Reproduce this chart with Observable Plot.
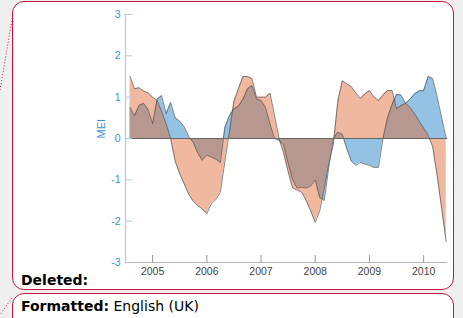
<!DOCTYPE html>
<html><head><meta charset="utf-8">
<script src="https://cdn.jsdelivr.net/npm/d3@7"></script>
<script src="https://cdn.jsdelivr.net/npm/@observablehq/plot@0.6"></script>
<style>
html,body{margin:0;padding:0;}
body{width:463px;height:318px;overflow:hidden;background:#efefef;position:relative;font-family:"DejaVu Sans",Verdana,sans-serif;}
.box{position:absolute;left:12px;width:440px;background:#fff;border:1.5px solid #c8143c;border-radius:12px;box-sizing:content-box;}
#b1{top:0.5px;height:287.5px;}
#b2{top:292.5px;height:60px;}
#chart{position:absolute;left:0;top:0;}
#deco{position:absolute;left:0;top:0;}
.note{position:absolute;left:21px;font-size:14px;line-height:16px;color:#000;white-space:nowrap;}
</style></head>
<body>
<div class="box" id="b1"></div>
<div class="box" id="b2"></div>
<svg id="deco" width="463" height="318">
  <line x1="12.3" y1="18" x2="0" y2="90" stroke="#c8143c" stroke-width="1" stroke-dasharray="1,2"/>
  <line x1="11.7" y1="298" x2="0" y2="315" stroke="#c8143c" stroke-width="1" stroke-dasharray="1,2"/>
</svg>
<div id="chart"></div>
<div class="note" style="top:272px"><b>Deleted:</b></div>
<div class="note" style="top:298px"><b>Formatted:</b> English (UK)</div>
<script>
// Monthly values, Aug 2004 .. Jun 2010
const startYear = 2004, startMonthIndex = 7; // August
const orangeSeries = [1.5,1.2,1.23,1.15,1.1, 1.0,0.92,0.65,0.35,0.0, -0.55,-0.85,-1.1,-1.35,-1.52, -1.63,-1.7,-1.82,-1.58,-1.48, -1.3,-0.55,0.15,0.9,1.2, 1.5,1.5,1.45,1.0,1.0, 1.0,1.1,0.55,0.0,-0.35, -0.8,-1.2,-1.25,-1.3,-1.5, -1.75,-2.03,-1.75,-1.2,-0.6, -0.15,0.9,1.4,1.32,1.25, 1.1,0.97,1.08,1.16,1.0, 0.92,1.05,1.16,1.16,0.72, 0.8,0.85,0.75,0.6,0.42, 0.25,0.08,-0.2,-0.9,-1.7, -2.5];
const blueSeries = [0.75,0.55,0.8,0.85,0.7, 0.36,0.95,1.04,0.6,0.87, 0.5,0.42,0.28,0.05,-0.1, -0.35,-0.53,-0.4,-0.45,-0.5, -0.58,0.27,0.55,0.72,0.78, 0.95,1.2,1.28,0.95,0.92, 0.75,0.35,0.0,-0.05,-0.15, -0.6,-1.0,-1.2,-1.18,-1.2, -1.15,-1.0,-1.43,-1.5,-0.7, 0.0,0.15,0.1,-0.25,-0.55, -0.65,-0.58,-0.62,-0.65,-0.7, -0.7,0.0,0.5,0.82,1.07, 1.05,0.85,0.95,1.08,1.15, 1.16,1.5,1.45,1.0,0.5, 0.0];
const yearTicks = [2005,2006,2007,2008,2009,2010];
const yTicks = [-3,-2,-1,0,1,2,3];
const xDomain = [2004.5, 2010.44];
const yLabel = "MEI";

const data = orangeSeries.map((v, i) => ({
  t: startYear + (startMonthIndex + i) / 12,
  orange: v,
  blue: blueSeries[i]
}));

const blueAxis = "#a9cbe8";
const blueText = "#3d8ed4";

const chart = Plot.plot({
  width: 463, height: 290,
  marginLeft: 125, marginRight: 16, marginTop: 14, marginBottom: 28,
  style: {background: "transparent", fontFamily: "'Liberation Sans', Arial, sans-serif", fontSize: "10.5px", overflow: "visible"},
  x: {domain: xDomain},
  y: {domain: [-3, 3]},
  marks: [
    Plot.areaY(data, {x: "t", y: "blue", fill: "#93c2e5"}),
    Plot.areaY(data, {x: "t", y: "orange", fill: "#e06a35", fillOpacity: 0.48}),
    Plot.lineY(data, {x: "t", y: "blue", stroke: "#4a4a4a", strokeWidth: 0.8, strokeOpacity: 0.85}),
    Plot.lineY(data, {x: "t", y: "orange", stroke: "#4a4a4a", strokeWidth: 0.8, strokeOpacity: 0.85}),
    Plot.ruleY([0], {stroke: "#666", strokeWidth: 1.2}),
    Plot.ruleX([xDomain[0]], {stroke: blueAxis, strokeWidth: 1.2}),
    Plot.ruleY([-3], {stroke: "#b3b3b3", strokeWidth: 1.2}),
    Plot.axisY({ticks: yTicks, tickSize: 7, dx: 7, fill: "none", stroke: blueAxis, label: null}),
    Plot.axisY({ticks: yTicks, tickSize: 0, tickPadding: 5, fill: blueText, label: null, tickFormat: d => String(d)}),
    Plot.axisX({ticks: yearTicks, tickSize: 7, dy: -7, fill: "none", stroke: "#999", label: null}),
    Plot.axisX({ticks: yearTicks, tickSize: 0, tickPadding: 5, fill: "#444", label: null, tickFormat: d => String(d)}),
    Plot.text([yLabel], {frameAnchor: "left", dx: -24, rotate: -90, fill: blueText, fontSize: 11})
  ]
});
document.getElementById("chart").appendChild(chart);
</script>
</body></html>
